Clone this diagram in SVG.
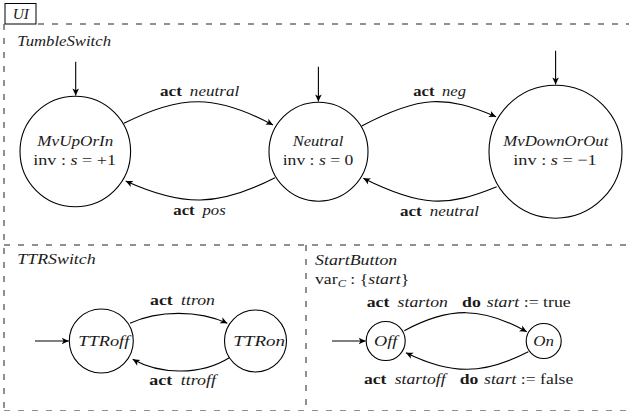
<svg xmlns="http://www.w3.org/2000/svg" width="629" height="411" viewBox="0 0 629 411">
  <defs>
    <marker id="tip" markerUnits="userSpaceOnUse" markerWidth="10" markerHeight="10" viewBox="-8 -5 9 10" refX="0" refY="0" orient="auto">
      <path d="M0,0 L-7,-3.3 L-5.2,0 L-7,3.3 Z" fill="#000"/>
    </marker>
    <style>
      text { font-family: Liberation Serif, Times New Roman, serif; font-size: 15px; fill: #1a1a1a; }
      .it { font-style: italic; }
      .bf { font-weight: bold; }
      .state { fill: #fff; stroke: #000; stroke-width: 1.1; }
      .edge { fill: none; stroke: #000; stroke-width: 1.1; marker-end: url(#tip); }
      .frame { fill: none; stroke: #222; stroke-width: 1; stroke-dasharray: 6 8; }
    </style>
  </defs>

  <!-- outer component frame and sub-component separators -->
  <g id="frames">
    <rect x="5" y="3.5" width="31" height="20.5" fill="#fff" stroke="#000" stroke-width="1"/>
    <text class="it" x="12.7" y="18.5" textLength="16.3" lengthAdjust="spacingAndGlyphs">UI</text>
    <line class="frame" x1="38" y1="24" x2="629" y2="24"/>
    <line class="frame" x1="4" y1="24" x2="4" y2="411"/>
    <line class="frame" x1="4" y1="245" x2="629" y2="245"/>
    <line class="frame" x1="306" y1="245" x2="306" y2="411"/>
    <line class="frame" x1="4" y1="411" x2="629" y2="411"/>
    <text class="it" x="17.3" y="45.7" textLength="93.7" lengthAdjust="spacingAndGlyphs">TumbleSwitch</text>
    <text class="it" x="17.3" y="264.3" textLength="78.4" lengthAdjust="spacingAndGlyphs">TTRSwitch</text>
    <text class="it" x="315" y="265" textLength="82.3" lengthAdjust="spacingAndGlyphs">StartButton</text>
    <text x="315" y="283.5" textLength="94.3" lengthAdjust="spacingAndGlyphs">var<tspan class="it" font-size="10.5" dy="3">C</tspan><tspan dy="-3"> : {</tspan><tspan class="it">start</tspan>}</text>
  </g>

  <!-- TumbleSwitch states -->
  <g id="MvUpOrIn">
    <circle class="state" cx="75.3" cy="151.5" r="55.3"/>
    <text class="it" x="37.3" y="145.5" textLength="76" lengthAdjust="spacingAndGlyphs">MvUpOrIn</text>
    <text x="33.3" y="165" textLength="82.7" lengthAdjust="spacingAndGlyphs">inv : <tspan class="it">s</tspan> = +1</text>
  </g>
  <g id="Neutral">
    <circle class="state" cx="318.5" cy="151.7" r="49.5"/>
    <text class="it" x="292.7" y="146" textLength="50.6" lengthAdjust="spacingAndGlyphs">Neutral</text>
    <text x="282.7" y="165" textLength="70.6" lengthAdjust="spacingAndGlyphs">inv : <tspan class="it">s</tspan> = 0</text>
  </g>
  <g id="MvDownOrOut">
    <circle class="state" cx="555.5" cy="151.7" r="66.5"/>
    <text class="it" x="503.3" y="146" textLength="105" lengthAdjust="spacingAndGlyphs">MvDownOrOut</text>
    <text x="513.3" y="165" textLength="83.4" lengthAdjust="spacingAndGlyphs">inv : <tspan class="it">s</tspan> = −1</text>
  </g>

  <!-- TTRSwitch states -->
  <g id="TTRoff">
    <circle class="state" cx="101.3" cy="341" r="32"/>
    <text class="it" x="78.3" y="346" textLength="51" lengthAdjust="spacingAndGlyphs">TTRoff</text>
  </g>
  <g id="TTRon">
    <circle class="state" cx="255.5" cy="341" r="31"/>
    <text class="it" x="233.3" y="346" textLength="51.7" lengthAdjust="spacingAndGlyphs">TTRon</text>
  </g>

  <!-- StartButton states -->
  <g id="Off">
    <circle class="state" cx="385.7" cy="341" r="19.5"/>
    <text class="it" x="374" y="346" textLength="23.3" lengthAdjust="spacingAndGlyphs">Off</text>
  </g>
  <g id="On">
    <circle class="state" cx="543.7" cy="341" r="17.5"/>
    <text class="it" x="533.3" y="346" textLength="20.7" lengthAdjust="spacingAndGlyphs">On</text>
  </g>

  <!-- transitions, initial arrows and their labels -->
  <g id="connectors">
    <line class="edge" x1="75.7" y1="61.7" x2="75.7" y2="95.5"/>
    <line class="edge" x1="318.4" y1="66.7" x2="318.4" y2="101.5"/>
    <line class="edge" x1="555.6" y1="50.7" x2="555.6" y2="84.5"/>
    <line class="edge" x1="35" y1="341" x2="68.8" y2="341"/>
    <line class="edge" x1="332" y1="341" x2="365.7" y2="341"/>

    <path class="edge" d="M124,123.3 C181,94.2 216,94.2 273,125"/>
    <path class="edge" d="M275,177.7 C218,206.9 182.7,206.9 125.7,181"/>
    <path class="edge" d="M361.7,126 C419.7,95.2 446,95.2 496,116.7"/>
    <path class="edge" d="M496.7,186.7 C446.7,207.2 421.3,207.2 363.3,178.3"/>

    <path class="edge" d="M130,323.3 C158,310 199,310 227.3,323.3"/>
    <path class="edge" d="M229.3,357.7 C201.3,375.2 160.7,375.2 132.7,359.3"/>

    <path class="edge" d="M404.3,330.7 C449,306.5 482,306.5 526.7,331.7"/>
    <path class="edge" d="M528.3,351.7 C483,375 451,375 406,352.7"/>

    <text x="160" y="96" textLength="79.3" lengthAdjust="spacingAndGlyphs"><tspan class="bf">act</tspan><tspan class="it" dx="7">neutral</tspan></text>
    <text x="173.3" y="215" textLength="52.4" lengthAdjust="spacingAndGlyphs"><tspan class="bf">act</tspan><tspan class="it" dx="7">pos</tspan></text>
    <text x="413.3" y="96" textLength="52.7" lengthAdjust="spacingAndGlyphs"><tspan class="bf">act</tspan><tspan class="it" dx="7">neg</tspan></text>
    <text x="400" y="216" textLength="79" lengthAdjust="spacingAndGlyphs"><tspan class="bf">act</tspan><tspan class="it" dx="7">neutral</tspan></text>

    <text x="150" y="305" textLength="65" lengthAdjust="spacingAndGlyphs"><tspan class="bf">act</tspan><tspan class="it" dx="7">ttron</tspan></text>
    <text x="149.3" y="385" textLength="66.7" lengthAdjust="spacingAndGlyphs"><tspan class="bf">act</tspan><tspan class="it" dx="7">ttroff</tspan></text>

    <text x="366.7" y="307" textLength="204" lengthAdjust="spacingAndGlyphs"><tspan class="bf">act</tspan><tspan class="it" dx="7">starton</tspan><tspan class="bf" dx="12">do</tspan><tspan class="it" dx="5">start</tspan> := true</text>
    <text x="364" y="384.3" textLength="209.3" lengthAdjust="spacingAndGlyphs"><tspan class="bf">act</tspan><tspan class="it" dx="7">startoff</tspan><tspan class="bf" dx="12">do</tspan><tspan class="it" dx="5">start</tspan> := false</text>
  </g>
</svg>
